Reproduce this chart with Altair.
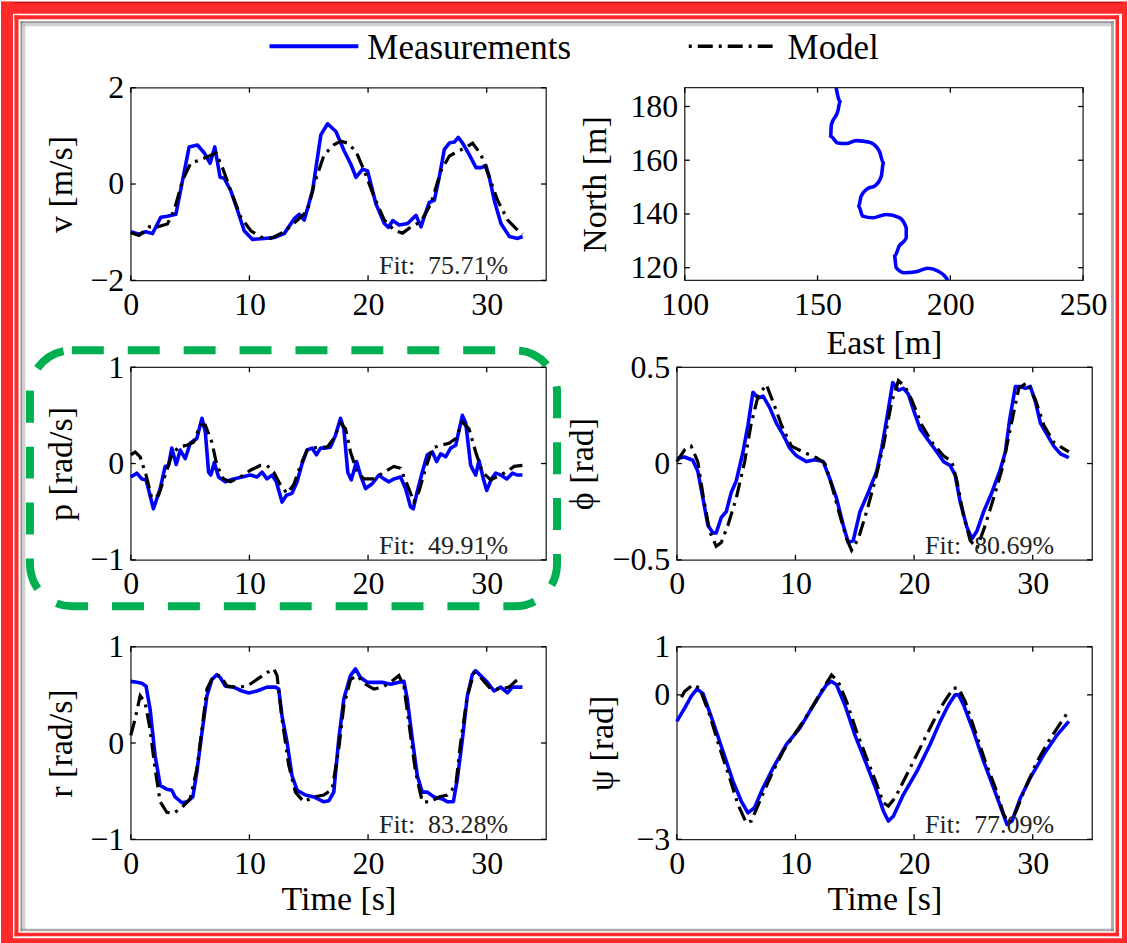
import altair as alt
import pandas as pd

# ---------------- data ----------------
time_ticks = [0, 10, 20, 30]

v_meas_t = [0, 0.7, 1.27, 1.83, 2.53, 3.09, 3.8, 4.36, 4.92, 5.62, 6.18, 6.69, 7.08, 7.53, 7.87,
            8.43, 9.0, 9.56, 10.26, 11.25, 12.09, 12.93, 13.78, 14.2, 14.62, 15.32, 16.02, 16.59,
            17.29, 18.0, 18.55, 18.98, 19.54, 19.96, 20.66, 21.37, 21.73, 22.07, 22.63, 23.34,
            24.04, 24.46, 24.74, 25.16, 25.58, 26.0, 26.43, 26.85, 27.27, 27.6, 27.97, 28.53,
            29.1, 29.52, 29.94, 30.22, 30.64, 31.2, 31.91, 32.61, 33.03]
v_meas = [-0.99, -1.04, -0.99, -1.03, -0.69, -0.67, -0.63, 0.07, 0.77, 0.81, 0.65, 0.43, 0.77,
          0.14, 0.12, -0.14, -0.55, -0.97, -1.15, -1.13, -1.11, -1.03, -0.72, -0.63, -0.75,
          -0.14, 1.02, 1.25, 1.09, 0.68, 0.41, 0.14, 0.31, 0.27, -0.41, -0.82, -0.9, -0.76,
          -0.85, -0.82, -0.65, -0.89, -0.68, -0.38, -0.34, 0.14, 0.72, 0.85, 0.87, 0.97, 0.85,
          0.61, 0.34, 0.34, 0.38, 0.14, -0.34, -0.82, -1.09, -1.13, -1.09]
v_model_t = [0, 0.7, 1.55, 2.25, 3.09, 3.65, 4.36, 5.06, 5.76, 6.61, 7.17, 7.73, 8.43, 9.28,
             10.12, 10.96, 11.81, 12.93, 14.06, 14.9, 15.46, 16.3, 17.15, 17.71, 18.27, 18.98,
             19.68, 20.52, 21.37, 22.21, 22.91, 23.62, 24.46, 25.3, 26.14, 26.85, 27.55, 28.11,
             28.81, 29.52, 30.22, 30.92, 31.77, 32.61, 33.03]
v_model = [-1.01, -1.07, -0.89, -0.89, -0.83, -0.55, 0.07, 0.44, 0.49, 0.58, 0.65, 0.34, -0.14,
           -0.69, -0.97, -1.1, -1.13, -0.99, -0.75, -0.55, 0.0, 0.61, 0.82, 0.89, 0.85, 0.68,
           0.27, -0.27, -0.75, -0.96, -1.02, -0.89, -0.78, -0.41, 0.27, 0.58, 0.68, 0.74, 0.85,
           0.61, 0.14, -0.34, -0.75, -0.96, -1.04]

p_meas_t = [0, 0.51, 0.93, 1.29, 1.91, 2.48, 2.9, 3.18, 3.46, 3.83, 4.17, 4.59, 5.01, 5.57, 6.0,
            6.28, 6.56, 6.75, 7.04, 7.4, 7.97, 8.67, 9.37, 10.08, 10.64, 11.06, 11.48, 11.91,
            12.27, 12.75, 13.12, 13.59, 14.02, 14.44, 14.86, 15.28, 15.65, 15.99, 16.41, 16.83,
            17.25, 17.68, 17.96, 18.29, 18.58, 19.03, 19.36, 19.79, 20.35, 20.91, 21.33, 21.76,
            22.18, 22.74, 23.16, 23.58, 23.81, 24.15, 24.57, 24.99, 25.42, 25.78, 26.12, 26.54,
            26.96, 27.39, 27.95, 28.23, 28.65, 29.07, 29.35, 29.72, 30.0, 30.4, 30.76, 31.18,
            31.69, 32.17, 32.59, 33.01]
p_meas = [-0.14, -0.10, -0.16, -0.17, -0.47, -0.26, -0.03, -0.02, 0.16, -0.01, 0.14, 0.05, 0.21,
          0.26, 0.47, 0.33, -0.09, -0.12, 0.01, -0.14, -0.19, -0.16, -0.14, -0.12, -0.14, -0.09,
          -0.16, -0.12, -0.19, -0.40, -0.33, -0.31, -0.19, 0.0, 0.14, 0.16, 0.09, 0.16, 0.16,
          0.17, 0.29, 0.47, 0.36, -0.09, -0.17, 0.02, -0.12, -0.26, -0.21, -0.12, -0.16, -0.19,
          -0.16, -0.14, -0.26, -0.45, -0.47, -0.29, -0.09, 0.09, 0.12, 0.02, 0.10, 0.07, 0.16,
          0.19, 0.50, 0.42, -0.02, -0.12, 0.03, -0.16, -0.28, -0.16, -0.10, -0.12, -0.16, -0.10,
          -0.12, -0.12]
p_model_t = [0, 0.37, 0.79, 1.29, 1.77, 2.34, 2.9, 3.46, 4.02, 4.73, 5.29, 5.86, 6.28, 6.84,
             7.26, 7.82, 8.39, 9.23, 10.08, 10.92, 11.48, 12.05, 12.61, 13.17, 13.73, 14.3,
             14.86, 15.71, 16.55, 17.11, 17.68, 18.1, 18.52, 19.08, 19.65, 20.49, 21.33, 22.18,
             22.74, 23.3, 23.87, 24.29, 24.85, 25.42, 26.12, 26.82, 27.39, 27.95, 28.51, 29.07,
             29.63, 30.34, 31.18, 31.88, 32.31, 33.01]
p_model = [0.09, 0.12, 0.07, -0.12, -0.36, -0.33, -0.12, 0.09, 0.17, 0.19, 0.22, 0.40, 0.40,
           0.22, -0.02, -0.16, -0.19, -0.14, -0.07, -0.02, -0.02, -0.09, -0.22, -0.31, -0.22,
           -0.02, 0.14, 0.17, 0.17, 0.26, 0.42, 0.36, 0.12, -0.09, -0.16, -0.16, -0.09, -0.03,
           -0.05, -0.22, -0.40, -0.29, -0.05, 0.16, 0.19, 0.21, 0.26, 0.43, 0.36, 0.12, -0.09,
           -0.17, -0.12, -0.07, -0.03, -0.02]

phi_meas_t = [0, 0.65, 1.35, 1.77, 2.2, 2.62, 3.04, 3.32, 3.75, 4.17, 4.59, 5.01, 5.58, 6.0,
              6.42, 6.85, 7.27, 7.83, 8.39, 8.96, 9.52, 10.08, 10.93, 11.63, 12.34, 12.9, 13.46,
              14.03, 14.45, 14.87, 15.44, 16.14, 16.85, 17.27, 17.69, 18.2, 18.68, 19.1, 19.52,
              19.94, 20.51, 21.21, 21.92, 22.48, 23.04, 23.46, 23.89, 24.45, 24.87, 25.3, 25.86,
              26.56, 27.27, 27.69, 28.06, 28.54, 28.96, 29.38, 29.8, 30.23, 30.65, 31.21, 31.77,
              32.34, 33.04]
phi_meas = [0.026, 0.034, 0.017, -0.04, -0.18, -0.32, -0.36, -0.36, -0.28, -0.25, -0.15, -0.09,
            0.06, 0.20, 0.37, 0.34, 0.35, 0.29, 0.21, 0.15, 0.08, 0.04, 0.01, 0.02, 0.01, -0.08,
            -0.18, -0.32, -0.41, -0.40, -0.25, -0.15, -0.04, 0.08, 0.23, 0.42, 0.38, 0.39, 0.36,
            0.28, 0.18, 0.12, 0.06, 0.01, -0.01, -0.06, -0.20, -0.33, -0.39, -0.35, -0.25, -0.15,
            -0.03, 0.06, 0.23, 0.40, 0.40, 0.39, 0.40, 0.32, 0.21, 0.15, 0.09, 0.05, 0.03]
phi_model_t = [0, 0.65, 1.21, 1.77, 2.2, 2.76, 3.32, 3.75, 4.31, 5.01, 5.72, 6.28, 6.85, 7.55,
               8.11, 8.82, 9.66, 10.65, 11.77, 12.48, 13.04, 13.75, 14.31, 14.73, 15.3, 16.0,
               16.7, 17.41, 18.11, 18.68, 19.24, 19.8, 20.65, 21.63, 22.48, 23.18, 23.61, 24.17,
               24.73, 25.3, 26.0, 26.7, 27.41, 28.11, 28.82, 29.52, 30.23, 30.93, 31.77, 33.04]
phi_model = [0.01, 0.07, 0.09, 0.01, -0.16, -0.35, -0.43, -0.41, -0.32, -0.18, 0.01, 0.21, 0.35,
             0.41, 0.32, 0.20, 0.09, 0.06, 0.03, 0.0, -0.11, -0.27, -0.39, -0.45, -0.39, -0.25,
             -0.09, 0.09, 0.32, 0.43, 0.40, 0.33, 0.20, 0.10, 0.04, 0.01, -0.09, -0.27, -0.40,
             -0.44, -0.32, -0.18, -0.03, 0.18, 0.39, 0.42, 0.33, 0.20, 0.11, 0.06]

r_meas_t = [0, 0.51, 0.93, 1.29, 1.63, 2.05, 2.48, 3.04, 3.46, 3.74, 4.31, 4.73, 5.23, 5.57, 6.0,
            6.42, 6.84, 7.26, 7.54, 7.97, 8.67, 9.37, 9.94, 10.64, 11.48, 12.19, 12.47, 12.75,
            13.17, 13.59, 14.02, 14.72, 15.43, 16.27, 16.69, 17.11, 17.53, 17.96, 18.52, 18.94,
            19.36, 19.93, 20.49, 21.19, 21.9, 22.6, 23.02, 23.3, 23.73, 24.15, 24.57, 24.99,
            25.56, 26.26, 26.68, 27.19, 27.53, 27.95, 28.37, 28.79, 29.07, 29.49, 30.06, 30.62,
            31.18, 31.75, 32.17, 33.01]
r_meas = [0.64, 0.63, 0.62, 0.59, 0.35, -0.13, -0.44, -0.48, -0.49, -0.56, -0.62, -0.61, -0.56,
          -0.30, 0.11, 0.49, 0.66, 0.71, 0.68, 0.59, 0.58, 0.54, 0.52, 0.54, 0.58, 0.58, 0.56,
          0.28, 0.01, -0.34, -0.49, -0.54, -0.56, -0.61, -0.60, -0.51, 0.04, 0.46, 0.70, 0.77,
          0.68, 0.63, 0.63, 0.63, 0.61, 0.63, 0.64, 0.46, 0.04, -0.34, -0.51, -0.51, -0.56,
          -0.58, -0.61, -0.61, -0.37, 0.04, 0.49, 0.71, 0.75, 0.70, 0.63, 0.54, 0.58, 0.52,
          0.58, 0.58]
r_model_t = [0, 0.37, 0.79, 1.21, 1.63, 2.05, 2.48, 3.04, 3.6, 4.31, 5.01, 5.57, 6.0, 6.42, 6.98,
             7.54, 8.11, 8.95, 9.8, 10.64, 11.48, 12.05, 12.33, 12.75, 13.31, 13.88, 14.58,
             15.43, 16.27, 16.97, 17.53, 17.96, 18.52, 19.08, 19.79, 20.49, 21.19, 21.9, 22.6,
             23.02, 23.44, 24.0, 24.57, 25.27, 25.98, 26.68, 27.39, 27.81, 28.37, 28.93, 29.49,
             30.34, 31.18, 31.88, 32.59]
r_model = [0.08, 0.25, 0.49, 0.42, 0.14, -0.27, -0.61, -0.72, -0.73, -0.67, -0.58, -0.27, 0.14,
           0.56, 0.70, 0.70, 0.59, 0.58, 0.59, 0.66, 0.73, 0.77, 0.70, 0.25, -0.23, -0.51, -0.61,
           -0.56, -0.54, -0.48, -0.06, 0.39, 0.66, 0.70, 0.61, 0.56, 0.58, 0.63, 0.70, 0.59,
           0.21, -0.30, -0.61, -0.61, -0.56, -0.54, -0.44, 0.01, 0.49, 0.73, 0.68, 0.56, 0.56,
           0.58, 0.66]

psi_meas_t = [0, 0.65, 1.21, 1.69, 2.2, 3.04, 3.89, 4.73, 5.44, 6.0, 6.56, 7.27, 8.11, 9.24,
              10.37, 11.21, 12.06, 12.62, 13.04, 13.46, 14.17, 15.01, 16.0, 16.85, 17.41, 17.83,
              18.25, 19.1, 20.23, 21.35, 22.2, 22.9, 23.46, 23.75, 24.17, 25.01, 25.86, 26.7,
              27.41, 27.83, 28.25, 28.96, 29.8, 30.93, 32.06, 33.04]
psi_meas = [-0.55, -0.28, -0.03, 0.12, 0.03, -0.55, -1.17, -1.79, -2.21, -2.45, -2.34, -1.93,
            -1.52, -1.03, -0.69, -0.34, 0.0, 0.21, 0.28, 0.21, -0.21, -0.83, -1.45, -2.0, -2.41,
            -2.62, -2.52, -2.07, -1.59, -1.03, -0.55, -0.21, 0.0, 0.0, -0.21, -0.76, -1.38,
            -1.93, -2.41, -2.69, -2.62, -2.14, -1.72, -1.24, -0.83, -0.55]
psi_model_t = [0.4, 0.65, 1.35, 1.92, 2.76, 3.61, 4.45, 5.16, 5.86, 6.28, 6.99, 7.97, 8.96,
               10.08, 11.21, 12.34, 13.04, 13.6, 14.31, 15.15, 16.0, 16.85, 17.41, 17.83, 18.39,
               19.38, 20.51, 21.63, 22.48, 23.32, 23.75, 24.31, 25.15, 26.0, 26.85, 27.55,
               27.97, 28.54, 29.38, 30.37, 31.49, 32.9]
psi_model = [-0.05, 0.07, 0.21, 0.14, -0.41, -1.10, -1.72, -2.28, -2.66, -2.62, -2.21, -1.66,
             -1.17, -0.76, -0.34, 0.14, 0.41, 0.28, -0.14, -0.76, -1.31, -1.86, -2.24, -2.31,
             -2.14, -1.66, -1.10, -0.55, -0.17, 0.14, 0.14, -0.14, -0.76, -1.38, -1.93, -2.48,
             -2.66, -2.45, -1.93, -1.38, -0.90, -0.38]

east = [157.0, 158.5, 157.6, 155.2, 154.9, 157.6, 160.8, 164.6, 169.6, 173.3, 174.8, 174.0,
        171.4, 168.9, 166.4, 165.5, 167.0, 170.8, 175.8, 180.8, 183.4, 183.4, 180.8, 179.0,
        179.6, 182.7, 187.1, 191.5, 195.2, 197.8, 199.1]
north = [187.0, 181.8, 178.1, 173.2, 168.9, 166.4, 166.2, 167.3, 166.7, 163.3, 159.0, 154.0,
         150.3, 149.5, 146.6, 142.9, 139.2, 138.6, 139.8, 138.6, 134.8, 131.1, 128.1, 124.3,
         120.0, 118.1, 118.5, 119.8, 118.8, 117.0, 115.3]
east_ticks = [100, 150, 200, 250]
north_ticks = [120, 140, 160, 180]

fit_v, fit_p, fit_phi, fit_r, fit_psi = "75.71%", "49.91%", "80.69%", "83.28%", "77.09%"
legend_labels = ["Measurements", "Model"]

# ---------------- style ----------------
FONT = "Liberation Serif"
W, H = 416, 193
BLUE = "#0000ff"
BLACK = "#000000"
RED = "#ff2a2a"
GREEN = "#00b050"
DASHDOT = [15, 6, 3, 6]
TICK = 5
ONE = pd.DataFrame({"k": [0]})


def df_of(t, y):
    assert len(t) == len(y), (len(t), len(y))
    return pd.DataFrame({"t": t, "y": y})


def tick_layers(xvals, yvals, xfield, yfield, xs, ys, xaxis, yaxis, x0=0, x1=W):
    xt = pd.DataFrame({xfield: xvals})
    yt = pd.DataFrame({yfield: yvals})
    out = []
    for (a, b) in [(H, H - TICK), (0, TICK)]:
        out.append(alt.Chart(xt).mark_rule(color=BLACK, strokeWidth=1.3).encode(
            x=alt.X(f"{xfield}:Q", scale=xs, axis=xaxis), y=alt.value(a), y2=alt.value(b)))
    for (a, b) in [(x0, x0 + TICK), (x1 - TICK, x1)]:
        out.append(alt.Chart(yt).mark_rule(color=BLACK, strokeWidth=1.3).encode(
            y=alt.Y(f"{yfield}:Q", scale=ys, axis=yaxis), x=alt.value(a), x2=alt.value(b)))
    return out


def num_label(decimals):
    if decimals:
        return f"datum.value == 0 ? '0' : format(datum.value, '.{decimals}f')"
    return "format(datum.value, 'd')"


def time_panel(mt, mv, dt, dv, ydomain, yticks, ytitle, title_x, fit,
               xtitle="", decimals=0, extra=()):
    xs = alt.Scale(domain=[0, 35], nice=False, zero=False)
    ys = alt.Scale(domain=ydomain, nice=False, zero=False)
    xaxis = alt.Axis(values=time_ticks, labelExpr=num_label(0), title=xtitle, titleY=60,
                     titleBaseline="middle", labelOverlap=False, labelFlush=False)
    yaxis = alt.Axis(values=yticks, labelExpr=num_label(decimals), title=ytitle,
                     titleX=title_x, titleY=H / 2, titleBaseline="middle",
                     labelOverlap=False, labelFlush=False, labelBound=False)
    meas = alt.Chart(df_of(mt, mv)).mark_line(
        color=BLUE, strokeWidth=3.6, strokeJoin="round").encode(
        x=alt.X("t:Q", scale=xs, axis=xaxis), y=alt.Y("y:Q", scale=ys, axis=yaxis))
    model = alt.Chart(df_of(dt, dv)).mark_line(
        color=BLACK, strokeWidth=3.2, strokeDash=DASHDOT).encode(
        x=alt.X("t:Q", scale=xs, axis=xaxis), y=alt.Y("y:Q", scale=ys, axis=yaxis))
    fit_txt = alt.Chart(pd.DataFrame({"t": [31.8], "label": ["Fit:\u2002" + fit]})).mark_text(
        align="right", baseline="alphabetic", font=FONT, fontSize=26, color="#222222").encode(
        x=alt.X("t:Q", scale=xs, axis=xaxis), y=alt.value(H - 6), text="label:N")
    layers = ([meas, model, fit_txt]
              + tick_layers(time_ticks, yticks, "t", "y", xs, ys, xaxis, yaxis)
              + list(extra))
    return alt.layer(*layers).properties(width=W, height=H)


# ---------------- decorations (pixel positions, canvas coords) ----------------
OX, OY = 130, 86          # top-left of the first panel's plot area


def prect(x1, y1, x2, y2, color, opacity=1.0):
    return alt.Chart(ONE).mark_rect(color=color, opacity=opacity).encode(
        x=alt.value(x1 - OX), x2=alt.value(x2 - OX), y=alt.value(y1 - OY), y2=alt.value(y2 - OY))


frame_bits = [
    prect(0, 0, 1128, 12, RED), prect(0, 0, 1128, 1.5, "#b51a1a"),
    prect(0, 0, 12, 943, RED), prect(1123, 0, 1128, 943, RED), prect(0, 938, 1128, 943, RED),
    prect(13.5, 13.5, 1120, 17.5, RED), prect(13.5, 13.5, 17.5, 936, RED),
    prect(1116.5, 13.5, 1120, 936, RED), prect(13.5, 932.5, 1120, 936, RED),
    prect(19.5, 19.5, 1115, 21.5, "#6e6e6e", 0.7), prect(19.5, 19.5, 21.5, 931, "#6e6e6e", 0.7),
    prect(21.5, 21.5, 1113, 24.5, "#b4b4b4", 0.6), prect(21.5, 21.5, 24.5, 929, "#b4b4b4", 0.6),
    prect(1112, 19.5, 1115, 931, "#8a8a8a", 0.7), prect(19.5, 928.5, 1115, 931, "#8a8a8a", 0.7),
]

legend_bits = [
    alt.Chart(ONE).mark_rule(color=BLUE, strokeWidth=4).encode(
        x=alt.value(269 - OX), x2=alt.value(358 - OX), y=alt.value(44.5 - OY)),
    alt.Chart(ONE).mark_text(align="left", baseline="alphabetic", font=FONT, fontSize=35,
                             color=BLACK, text=legend_labels[0]).encode(
        x=alt.value(367 - OX), y=alt.value(57 - OY)),
    alt.Chart(ONE).mark_rule(color=BLACK, strokeWidth=3.5, strokeDash=DASHDOT,
                             strokeDashOffset=21).encode(
        x=alt.value(689 - OX), x2=alt.value(776 - OX), y=alt.value(44.5 - OY)),
    alt.Chart(ONE).mark_text(align="left", baseline="alphabetic", font=FONT, fontSize=35,
                             color=BLACK, text=legend_labels[1]).encode(
        x=alt.value(788 - OX), y=alt.value(57 - OY)),
]

# green dashed rounded box around the p panel (panel origin 130, 366)
PX, PY = 130, 366
green_box = alt.Chart(ONE).mark_rect(
    fillOpacity=0, stroke=GREEN, strokeWidth=8, strokeDash=[32, 24], cornerRadius=42).encode(
    x=alt.value(29 - PX), x2=alt.value(557 - PX), y=alt.value(349 - PY), y2=alt.value(605.5 - PY))

# ---------------- panels ----------------
v_panel = time_panel(v_meas_t, v_meas, v_model_t, v_model, [-2, 2], [-2, 0, 2], "v [m/s]", -69,
                     fit_v, extra=frame_bits + legend_bits)
p_panel = time_panel(p_meas_t, p_meas, p_model_t, p_model, [-1, 1], [-1, 0, 1], "p [rad/s]", -69,
                     fit_p, extra=[green_box])
r_panel = time_panel(r_meas_t, r_meas, r_model_t, r_model, [-1, 1], [-1, 0, 1], "r [rad/s]", -69,
                     fit_r, xtitle="Time [s]")
phi_panel = time_panel(phi_meas_t, phi_meas, phi_model_t, phi_model, [-0.5, 0.5],
                       [-0.5, 0, 0.5], "\u03d5 [rad]", -94, fit_phi, decimals=1)
psi_panel = time_panel(psi_meas_t, psi_meas, psi_model_t, psi_model, [-3, 1], [-3, 0, 1],
                       "\u03c8 [rad]", -74, fit_psi, xtitle="Time [s]")

# trajectory panel: plot box spans 8..407 px inside a 416-px cell
TX0, TX1 = 8, 407
ens = alt.Scale(domain=[100, 250], range=[TX0, TX1], nice=False, zero=False)
nns = alt.Scale(domain=[115.3, 187], nice=False, zero=False)
e_axis = alt.Axis(values=east_ticks, labelExpr=num_label(0), title="East [m]", titleY=63,
                  titleBaseline="middle", labelOverlap=False, labelFlush=False)
n_axis = alt.Axis(values=north_ticks, labelExpr=num_label(0), title="North [m]", offset=-TX0,
                  titleX=-89, titleY=H / 2, titleBaseline="middle", labelOverlap=False,
                  labelFlush=False)
traj_df = pd.DataFrame({"east": east, "north": north, "i": list(range(len(east)))})
traj_line = alt.Chart(traj_df).mark_line(
    color=BLUE, strokeWidth=3.6, strokeJoin="round", clip=True, interpolate="monotone").encode(
    x=alt.X("east:Q", scale=ens, axis=e_axis),
    y=alt.Y("north:Q", scale=nns, axis=n_axis),
    order="i:Q")
box_df = pd.DataFrame({"east": [100], "east2": [250], "north": [115.3], "north2": [187]})
traj_box = alt.Chart(box_df).mark_rect(fillOpacity=0, stroke="#262626", strokeWidth=1.3).encode(
    x=alt.X("east:Q", scale=ens, axis=e_axis), x2="east2:Q",
    y=alt.Y("north:Q", scale=nns, axis=n_axis), y2="north2:Q")
traj_panel = alt.layer(
    traj_line, traj_box,
    *tick_layers(east_ticks, north_ticks, "east", "north", ens, nns, e_axis, n_axis, TX0, TX1)
).properties(width=W, height=H, view=alt.ViewBackground(stroke="transparent"))

chart = alt.concat(
    v_panel, traj_panel, p_panel, phi_panel, r_panel, psi_panel,
    columns=2, spacing=alt.RowColnumber(row=87, column=131), bounds="flush",
).properties(
    padding=0, background="white", autosize=alt.AutoSizeParams(type="pad")
).configure_view(
    stroke="#262626", strokeWidth=1.3
).configure_axis(
    labelFont=FONT, labelFontSize=32, labelColor=BLACK, labelPadding=7,
    labelFlush=False, labelOverlap=False,
    titleFont=FONT, titleFontSize=34, titleFontWeight="normal", titleColor=BLACK,
    ticks=False, tickSize=0, domain=False, grid=False,
).configure_axisX(labelPadding=9)

chart.save("out.html", embed_options={"renderer": "svg", "actions": False})
